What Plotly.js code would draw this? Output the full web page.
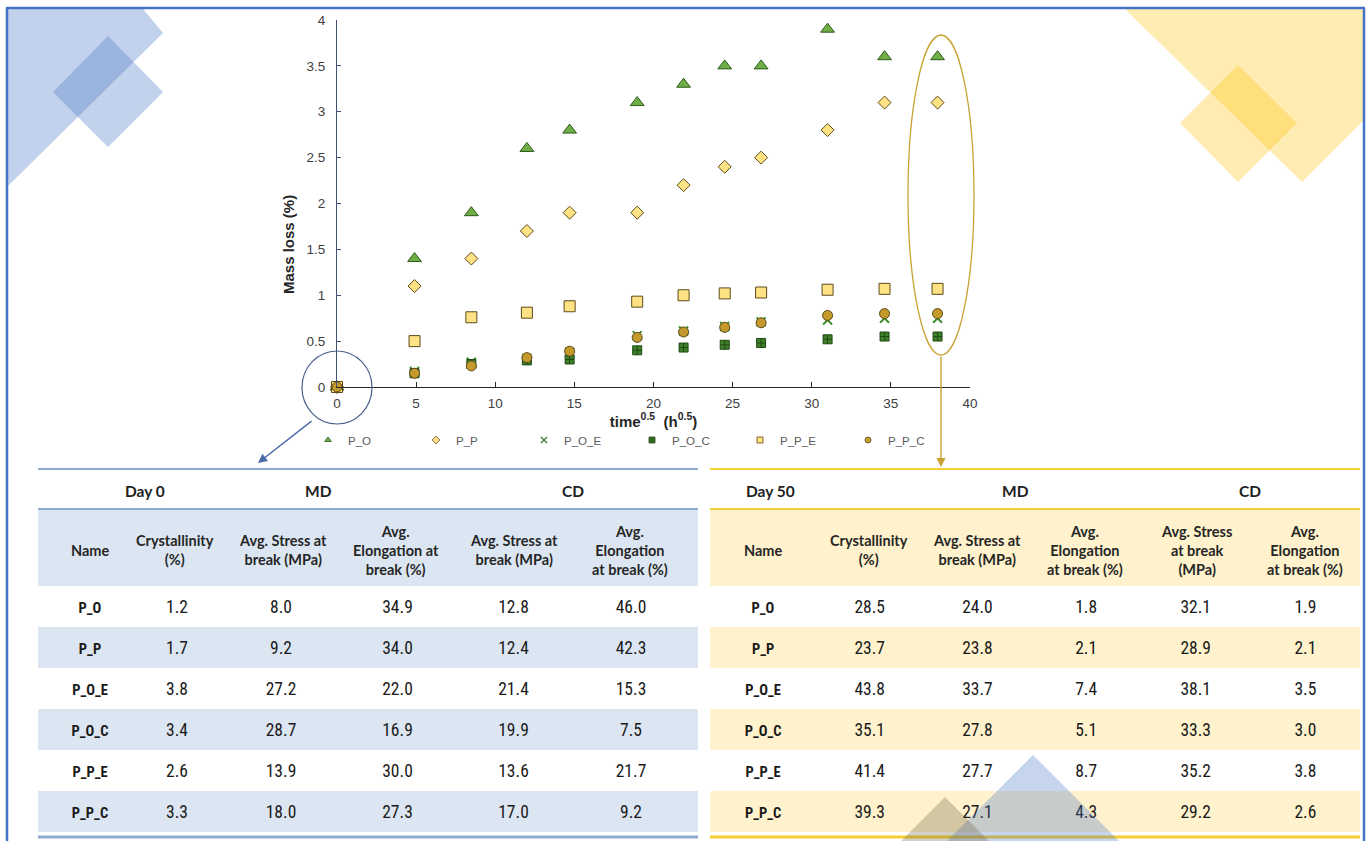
<!DOCTYPE html>
<html>
<head>
<meta charset="utf-8">
<script src="https://cdn.plot.ly/plotly-3.0.1.min.js"></script>
<style>html,body{margin:0;padding:0;background:#fff;}#chart{width:1368px;height:841px;}</style>
</head>
<body>
<div id="chart"></div>
<script>
// ---------- chart data ----------
const xTime = [0, 4.9, 8.49, 12, 14.7, 18.97, 21.9, 24.5, 26.8, 31.0, 34.6, 37.95];
const P_O   = [0, 1.4, 1.9, 2.6, 2.8, 3.1, 3.3, 3.5, 3.5, 3.9, 3.6, 3.6];
const P_P   = [0, 1.1, 1.4, 1.7, 1.9, 1.9, 2.2, 2.4, 2.5, 2.8, 3.1, 3.1];
const P_O_E = [0, 0.17, 0.27, 0.31, 0.38, 0.56, 0.61, 0.66, 0.71, 0.73, 0.75, 0.75];
const P_O_C = [0, 0.15, 0.25, 0.29, 0.30, 0.40, 0.43, 0.46, 0.48, 0.52, 0.55, 0.55];
const P_P_E = [0, 0.50, 0.76, 0.81, 0.88, 0.93, 1.00, 1.02, 1.03, 1.06, 1.07, 1.07];
const P_P_C = [0, 0.15, 0.23, 0.32, 0.39, 0.54, 0.60, 0.65, 0.70, 0.78, 0.80, 0.80];
const seriesNames = ['P_O', 'P_P', 'P_O_E', 'P_O_C', 'P_P_E', 'P_P_C'];
const xTickVals = [0, 5, 10, 15, 20, 25, 30, 35, 40];
const yTickVals = [0, 0.5, 1, 1.5, 2, 2.5, 3, 3.5, 4];

// ---------- table data ----------
const sampleNames   = ['P_O', 'P_P', 'P_O_E', 'P_O_C', 'P_P_E', 'P_P_C'];
const day0Cryst     = [1.2, 1.7, 3.8, 3.4, 2.6, 3.3];
const day0MDStress  = [8.0, 9.2, 27.2, 28.7, 13.9, 18.0];
const day0MDElong   = [34.9, 34.0, 22.0, 16.9, 30.0, 27.3];
const day0CDStress  = [12.8, 12.4, 21.4, 19.9, 13.6, 17.0];
const day0CDElong   = [46.0, 42.3, 15.3, 7.5, 21.7, 9.2];
const day50Cryst    = [28.5, 23.7, 43.8, 35.1, 41.4, 39.3];
const day50MDStress = [24.0, 23.8, 33.7, 27.8, 27.7, 27.1];
const day50MDElong  = [1.8, 2.1, 7.4, 5.1, 8.7, 4.3];
const day50CDStress = [32.1, 28.9, 38.1, 33.3, 35.2, 29.2];
const day50CDElong  = [1.9, 2.1, 3.5, 3.0, 3.8, 2.6];
const headersDay0  = ['Name', 'Crystallinity<br>(%)', 'Avg. Stress at<br>break (MPa)', 'Avg.<br>Elongation at<br>break (%)', 'Avg. Stress at<br>break (MPa)', 'Avg.<br>Elongation<br>at break (%)'];
const headersDay50 = ['Name', 'Crystallinity<br>(%)', 'Avg. Stress at<br>break (MPa)', 'Avg.<br>Elongation<br>at break (%)', 'Avg. Stress<br>at break<br>(MPa)', 'Avg.<br>Elongation<br>at break (%)'];
const groupLabelsDay0  = ['Day 0', 'MD', 'CD'];
const groupLabelsDay50 = ['Day 50', 'MD', 'CD'];

// ---------- helpers (pixel -> paper) ----------
const W = 1368, H = 841;
const X = p => p / W;
const Y = p => 1 - p / H;
const poly = pts => 'M ' + pts.map(p => X(p[0]) + ' ' + Y(p[1])).join(' L ') + ' Z';
const fmt = arr => arr.map(v => v.toFixed(1));
const boldLines = s => s.split('<br>').map(l => '<b>' + l + '</b>').join('<br>');

const styles = {
  P_O:   {symbol: 'triangle-up', size: 12, color: '#6FAD47', line: {color: '#2E5A1C', width: 1}},
  P_P:   {symbol: 'diamond', size: 10, color: '#FFE284', line: {color: '#5C4A1A', width: 1}},
  P_O_E: {symbol: 'x-thin-open', size: 9, color: '#3E8E2E', line: {color: '#3E8E2E', width: 2}},
  P_O_C: {symbol: 'square-cross', size: 9, color: '#3F7F2A', line: {color: '#1F4A14', width: 1}},
  P_P_E: {symbol: 'square', size: 11, color: '#FFE284', line: {color: '#5C4A1A', width: 1}},
  P_P_C: {symbol: 'circle', size: 10, color: '#C49A2C', line: {color: '#5C4A1A', width: 1}}
};
const seriesY = {P_O, P_P, P_O_E, P_O_C, P_P_E, P_P_C};

const traces = [];
seriesNames.forEach(n => {
  traces.push({type: 'scatter', mode: 'markers', x: xTime, y: seriesY[n], name: n,
    showlegend: false, cliponaxis: false, marker: styles[n], hoverinfo: 'skip'});
});
// legend entries (small symbols)
seriesNames.forEach(n => {
  const s = styles[n];
  traces.push({type: 'scatter', mode: 'markers', x: [null], y: [null], name: n, showlegend: true,
    marker: Object.assign({}, s, {size: 6, line: {color: s.line.color, width: n === 'P_O_E' ? 1.5 : 0.8}})});
});

const dataFont = 'Roboto Condensed, Liberation Sans Narrow, DejaVu Sans Condensed, Roboto, sans-serif';
const headFont = 'Lato, Open Sans, sans-serif';
const clear = 'rgba(0,0,0,0)';

function makeTable(cols, x0, x1, widths) {
  return {
    type: 'table',
    domain: {x: [X(x0), X(x1)], y: [0, Y(514)]},
    columnwidth: widths,
    header: {
      values: widths.map(() => ''),
      height: 78, align: 'center',
      fill: {color: clear}, line: {color: clear, width: 0},
      font: {family: headFont, size: 14.5, color: '#262626'}
    },
    cells: {
      values: [sampleNames.map(s => '<b>' + s + '</b>')].concat(cols.map(fmt)),
      height: 41, align: 'center',
      fill: {color: clear}, line: {color: clear, width: 0},
      font: {family: dataFont, size: [14.5, 17.5, 17.5, 17.5, 17.5, 17.5], color: '#1A1A1A'}
    }
  };
}
traces.push(makeTable([day0Cryst, day0MDStress, day0MDElong, day0CDStress, day0CDElong],
  48, 690, [84, 90, 118, 115, 117, 118]));
traces.push(makeTable([day50Cryst, day50MDStress, day50MDElong, day50CDStress, day50CDElong],
  710, 1360, [106, 107, 108, 109, 110, 109]));

// ---------- shapes ----------
const shapes = [];
const blueA = 'rgba(68,114,196,0.32)';
const goldA = 'rgba(255,192,0,0.30)';
shapes.push({type: 'path', xref: 'paper', yref: 'paper', path: poly([[7, 9], [143, 9], [163, 33], [7, 187]]), fillcolor: blueA, line: {width: 0}, layer: 'below'});
shapes.push({type: 'path', xref: 'paper', yref: 'paper', path: poly([[108, 36], [163, 92], [108, 147], [53, 92]]), fillcolor: blueA, line: {width: 0}, layer: 'below'});
shapes.push({type: 'path', xref: 'paper', yref: 'paper', path: poly([[1125, 9], [1364, 9], [1364, 120], [1302, 182]]), fillcolor: goldA, line: {width: 0}, layer: 'below'});
shapes.push({type: 'path', xref: 'paper', yref: 'paper', path: poly([[1238, 65], [1297, 123], [1238, 182], [1180, 123]]), fillcolor: goldA, line: {width: 0}, layer: 'below'});
const rect = (x0, y0, x1, y1, c, layer) => ({type: 'rect', xref: 'paper', yref: 'paper', x0: X(x0), x1: X(x1), y0: Y(y1), y1: Y(y0), fillcolor: c, line: {width: 0}, layer: layer || 'below'});
const blueBg = '#DCE6F2', goldBg = '#FFF2CC';
shapes.push(rect(38, 510, 698, 586, blueBg));
shapes.push(rect(710, 510, 1360, 586, goldBg));
[1, 3, 5].forEach(i => {
  shapes.push(rect(38, 586 + 41 * i, 698, 586 + 41 * (i + 1), blueBg));
  shapes.push(rect(710, 586 + 41 * i, 1360, 586 + 41 * (i + 1), goldBg));
});
const hline = (x0, x1, y, c, w) => ({type: 'line', xref: 'paper', yref: 'paper', x0: X(x0), x1: X(x1), y0: Y(y), y1: Y(y), line: {color: c, width: w}});
shapes.push(hline(38, 698, 469, '#8EAACC', 2));
shapes.push(hline(38, 698, 509, '#8EAACC', 2));
shapes.push(hline(38, 698, 837, '#8EAACC', 3));
shapes.push(hline(710, 1360, 469, '#F5D033', 2));
shapes.push(hline(710, 1360, 509, '#F5D033', 2));
shapes.push(hline(710, 1360, 837, '#F5D033', 3));
shapes.push({type: 'path', xref: 'paper', yref: 'paper', path: poly([[1033, 755], [1119, 841], [947, 841]]), fillcolor: 'rgba(68,114,196,0.30)', line: {width: 0}, layer: 'above'});
shapes.push({type: 'path', xref: 'paper', yref: 'paper', path: poly([[945, 797], [989, 841], [901, 841]]), fillcolor: 'rgba(110,100,70,0.30)', line: {width: 0}, layer: 'above'});
const vline = (x, y0, y1, c, w) => ({type: 'line', xref: 'paper', yref: 'paper', x0: X(x), x1: X(x), y0: Y(y0), y1: Y(y1), line: {color: c, width: w}});
shapes.push(hline(6, 1365, 8, '#4472C4', 2.5));
shapes.push(vline(7, 8, 841, '#4472C4', 2.5));
shapes.push(vline(1364, 8, 841, '#4472C4', 2.5));
shapes.push({type: 'circle', xref: 'paper', yref: 'paper', x0: X(302), x1: X(372), y0: Y(424), y1: Y(351), line: {color: '#4A5F8C', width: 1.2}, fillcolor: clear});
shapes.push({type: 'circle', xref: 'paper', yref: 'paper', x0: X(908), x1: X(974), y0: Y(355), y1: Y(35), line: {color: '#C8A232', width: 1.3}, fillcolor: clear});

// ---------- annotations ----------
const annotations = [];
const dayLabel = (txt, x) => ({xref: 'paper', yref: 'paper', x: X(x), y: Y(491), text: '<b>' + txt + '</b>', showarrow: false,
  font: {family: headFont, size: 15.5, color: '#222'}, xanchor: 'center', yanchor: 'middle'});
[145, 318, 573].forEach((x, i) => annotations.push(dayLabel(groupLabelsDay0[i], x)));
[770, 1015, 1250].forEach((x, i) => annotations.push(dayLabel(groupLabelsDay50[i], x)));
// column headers (multi-line, centred in the header band)
const headerLabel = (txt, x) => ({xref: 'paper', yref: 'paper', x: X(x), y: Y(550), text: boldLines(txt), showarrow: false,
  align: 'center', font: {family: headFont, size: 14.5, color: '#262626'}, xanchor: 'center', yanchor: 'middle'});
[90, 175, 283, 396, 514, 630].forEach((x, i) => annotations.push(headerLabel(headersDay0[i], x)));
[763, 869, 977, 1085, 1196, 1305].forEach((x, i) => annotations.push(headerLabel(headersDay50[i], x)));
// y-axis title (placed as in the reference, below the axis centre)
annotations.push({xref: 'paper', yref: 'paper', x: X(289), y: Y(245), text: '<b>Mass loss (%)</b>', showarrow: false,
  textangle: -90, font: {family: 'Liberation Sans, Arial, sans-serif', size: 15, color: '#262626'}, xanchor: 'center', yanchor: 'middle'});
annotations.push({xref: 'paper', yref: 'paper', x: X(258), y: Y(463), ax: 55, ay: -43, text: '', showarrow: true,
  arrowhead: 2, arrowsize: 1.3, arrowwidth: 1.4, arrowcolor: '#4A6AA8', standoff: 0});
annotations.push({xref: 'paper', yref: 'paper', x: X(941), y: Y(467), ax: 0, ay: -112, text: '', showarrow: true,
  arrowhead: 2, arrowsize: 1.3, arrowwidth: 1.4, arrowcolor: '#C8A232', standoff: 0});

const axFont = 'Liberation Sans, Arial, sans-serif';
const tickFont = {family: axFont, size: 13.5, color: '#404040'};
const layout = {
  width: W, height: H,
  margin: {l: 0, r: 0, t: 0, b: 0},
  paper_bgcolor: '#fff', plot_bgcolor: 'rgba(0,0,0,0)',
  showlegend: true,
  xaxis: {
    domain: [X(337), X(970)], range: [0, 40], tickvals: xTickVals, ticktext: xTickVals.map(String),
    showgrid: false, zeroline: false, showline: true, linecolor: '#262626', linewidth: 1.3,
    ticks: 'inside', ticklen: 5, tickcolor: '#262626', tickfont: tickFont, ticklabelstandoff: 3,
    title: {text: '<b>time<sup>0.5</sup>  (h<sup>0.5</sup>)</b>', font: {family: axFont, size: 15, color: '#262626'}, standoff: 2},
    fixedrange: true
  },
  yaxis: {
    domain: [Y(387), Y(20)], range: [0, 4], tickvals: yTickVals, ticktext: yTickVals.map(String),
    showgrid: false, zeroline: false, showline: true, linecolor: '#3F4F70', linewidth: 1,
    ticks: 'inside', ticklen: 4, tickcolor: '#3F4F70', tickfont: tickFont, ticklabelstandoff: 8,
    title: {text: ''},
    fixedrange: true
  },
  legend: {
    orientation: 'h', x: X(308), xanchor: 'left', y: Y(440), yanchor: 'middle',
    entrywidth: 63, entrywidthmode: 'pixels', itemwidth: 30,
    font: {family: axFont, size: 11.5, color: '#595959'},
    bgcolor: clear, borderwidth: 0
  },
  shapes: shapes,
  annotations: annotations
};

Plotly.newPlot('chart', traces, layout, {staticPlot: true, displayModeBar: false});
</script>
</body>
</html>
